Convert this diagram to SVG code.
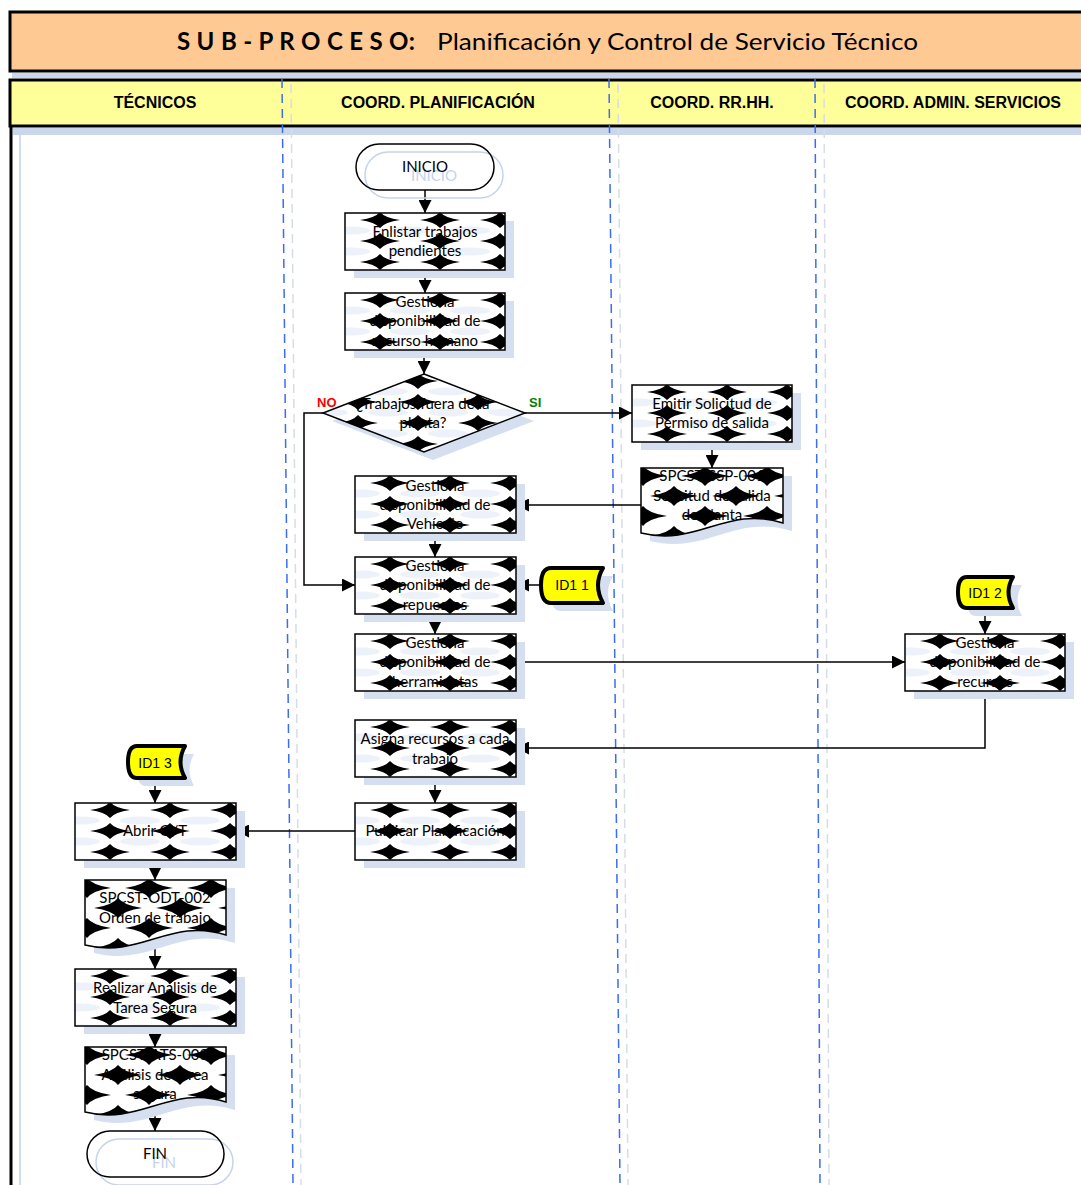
<svg xmlns="http://www.w3.org/2000/svg" xmlns:xlink="http://www.w3.org/1999/xlink" width="1081" height="1185" viewBox="0 0 1081 1185">
<style>
.box{stroke:#000;stroke-width:1.5}
.shadow{fill:#d5dff0}
.t{font-family:Lato,"Open Sans","Liberation Sans",sans-serif;font-size:15px;fill:#000;text-anchor:middle}
.ts{font-family:Lato,"Open Sans","Liberation Sans",sans-serif;font-size:15px;fill:#c5d3ec;text-anchor:middle}
.hd{font-family:"Liberation Sans",Arial,sans-serif;font-size:16px;font-weight:bold;fill:#000;text-anchor:middle}
.lab{font-family:"Liberation Sans",Arial,sans-serif;font-size:13px;font-weight:bold}
.id{font-family:"Liberation Sans",Arial,sans-serif;font-size:14px;fill:#000;text-anchor:middle}
.conn{fill:none;stroke:#000;stroke-width:1.5}
.lane{stroke:#3a6df0;stroke-width:1.5;stroke-dasharray:9 6}
.lane2{stroke:#d6dde8;stroke-width:1.5;stroke-dasharray:9 6}
.offp{fill:#ffff00;stroke:#000;stroke-width:4;stroke-linejoin:round}
</style>
<defs>
<path id="star" d="M-20,0 Q-5,-2 0,-8 Q5,-2 20,0 Q5,2 0,8 Q-5,2 -20,0Z" fill="#000"/>
<path id="bstar" d="M-24,0 Q-6,-2.5 0,-10 Q6,-2.5 24,0 Q6,2.5 0,10 Q-6,2.5 -24,0Z" fill="#000"/>
<pattern id="pt" patternUnits="userSpaceOnUse" x="35" y="7" width="60" height="21">
<rect width="60" height="21" fill="#fff"/>
<ellipse cx="30" cy="10.5" rx="20" ry="4" fill="#edf2fa"/>
<use xlink:href="#star" x="0" y="0"/><use xlink:href="#star" x="60" y="0"/>
<use xlink:href="#star" x="0" y="21"/><use xlink:href="#star" x="60" y="21"/>
</pattern>
<pattern id="pd" patternUnits="userSpaceOnUse" x="2" y="8" width="62" height="40">
<rect width="62" height="40" fill="#fff"/>
<use xlink:href="#bstar" x="0" y="0"/><use xlink:href="#bstar" x="62" y="0"/>
<use xlink:href="#bstar" x="0" y="40"/><use xlink:href="#bstar" x="62" y="40"/>
<use xlink:href="#bstar" x="31" y="20"/>
</pattern>
<marker id="ar" markerUnits="userSpaceOnUse" markerWidth="13" markerHeight="13" refX="13" refY="6.5" orient="auto">
<path d="M0,0 L13,6.5 L0,13Z" fill="#000"/>
</marker>
</defs>

<g id="frame">
<rect x="10" y="12" width="1085" height="59" fill="#ffc993" stroke="#000" stroke-width="3"/>
<rect x="12" y="73" width="1075" height="5" fill="#c9d6ec"/>
<text x="177" y="50" font-family="Lato,'Open Sans',sans-serif" font-size="24" font-weight="bold" textLength="238" lengthAdjust="spacing">S U B - P R O C E S O:</text>
<text x="437" y="50" font-family="Lato,'Open Sans',sans-serif" font-size="24" textLength="481" lengthAdjust="spacingAndGlyphs">Planificación y Control de Servicio Técnico</text>
<rect x="10" y="80" width="1085" height="46" fill="#ffff99" stroke="#000" stroke-width="3"/>
<rect x="13" y="128" width="1075" height="7" fill="#c9d6ec"/>
<line x1="20" y1="135" x2="20" y2="1185" stroke="#d0dcef" stroke-width="2"/>
<line x1="11" y1="126" x2="11" y2="1185" stroke="#000" stroke-width="3"/>
<text class="hd" x="155" y="108">TÉCNICOS</text>
<text class="hd" x="438" y="108">COORD. PLANIFICACIÓN</text>
<text class="hd" x="712" y="108">COORD. RR.HH.</text>
<text class="hd" x="953" y="108">COORD. ADMIN. SERVICIOS</text>
<line class="lane2" x1="291" y1="84" x2="301" y2="1185"/>
<line class="lane2" x1="618" y1="84" x2="628" y2="1185"/>
<line class="lane2" x1="824" y1="84" x2="829" y2="1185"/>
<line class="lane" x1="282" y1="79" x2="293" y2="1185"/>
<line class="lane" x1="609" y1="79" x2="620" y2="1185"/>
<line class="lane" x1="815" y1="79" x2="820" y2="1185"/>
</g>

<g id="connectors">
<path class="conn" d="M425,190 V213" marker-end="url(#ar)"/>
<path class="conn" d="M425,270 V293" marker-end="url(#ar)"/>
<path class="conn" d="M424,350 V374" marker-end="url(#ar)"/>
<path class="conn" d="M525,413 H632" marker-end="url(#ar)"/>
<path class="conn" d="M323,413 H304 V585 H355" marker-end="url(#ar)"/>
<path class="conn" d="M712,442 V468" marker-end="url(#ar)"/>
<path class="conn" d="M641,505 H516" marker-end="url(#ar)"/>
<path class="conn" d="M435,533 V557" marker-end="url(#ar)"/>
<path class="conn" d="M541,585 H516" marker-end="url(#ar)"/>
<path class="conn" d="M435,614 V634" marker-end="url(#ar)"/>
<path class="conn" d="M516,662 H905" marker-end="url(#ar)"/>
<path class="conn" d="M985,608 V634" marker-end="url(#ar)"/>
<path class="conn" d="M985,691 V748 H516" marker-end="url(#ar)"/>
<path class="conn" d="M435,777 V803" marker-end="url(#ar)"/>
<path class="conn" d="M355,831 H236" marker-end="url(#ar)"/>
<path class="conn" d="M155,778 V803" marker-end="url(#ar)"/>
<path class="conn" d="M155,860 V880" marker-end="url(#ar)"/>
<path class="conn" d="M155,939 V969" marker-end="url(#ar)"/>
<path class="conn" d="M155,1026 V1047" marker-end="url(#ar)"/>
<path class="conn" d="M155,1106 V1131" marker-end="url(#ar)"/>
</g>

<g id="inicio" transform="translate(356,144)">
<rect x="9" y="8" width="138" height="46" rx="23" fill="none" stroke="#c5d3ec" stroke-width="1.5"/>
<text class="ts" x="78" y="37">INICIO</text>
<rect width="138" height="46" rx="23" fill="none" stroke="#000" stroke-width="1.5"/>
<text class="t" x="69" y="28">INICIO</text>
</g>

<g id="enlistar" transform="translate(345,213)">
<rect class="shadow" x="9" y="8" width="160" height="57"/>
<rect class="box" width="160" height="57" fill="url(#pt)"/>
<text class="t" x="80" y="24">Enlistar trabajos</text>
<text class="t" x="80" y="43">pendientes</text>
</g>

<g id="rrhh" transform="translate(345,293)">
<rect class="shadow" x="9" y="8" width="160" height="57"/>
<rect class="box" width="160" height="57" fill="url(#pt)"/>
<text class="t" x="80" y="14">Gestiona</text>
<text class="t" x="80" y="33">disponibilidad de</text>
<text class="t" x="80" y="53">recurso humano</text>
</g>

<g id="decision" transform="translate(323,374)">
<path class="shadow" d="M110,8 L211,47 L110,86 L9,47Z"/>
<path class="box" d="M101,0 L202,39 L101,78 L0,39Z" fill="url(#pt)"/>
<text class="t" x="100" y="35">¿Trabajos fuera de la</text>
<text class="t" x="100" y="54">planta?</text>
<text class="lab" x="-6" y="33" fill="#ff0000" text-anchor="start">NO</text>
<text class="lab" x="206" y="33" fill="#008000" text-anchor="start">SI</text>
</g>

<g id="emitir" transform="translate(632,385)">
<rect class="shadow" x="9" y="8" width="160" height="57"/>
<rect class="box" width="160" height="57" fill="url(#pt)"/>
<text class="t" x="80" y="24">Emitir Solicitud de</text>
<text class="t" x="80" y="43">Permiso de salida</text>
</g>

<g id="doc-ssp" transform="translate(641,468)">
<path class="shadow" d="M9,8 H151 V63 C94,45 66,87 9,73Z"/>
<path class="box" d="M0,0 H142 V55 C85,37 57,79 0,65Z" fill="url(#pd)"/>
<text class="t" x="71" y="13">SPCST-SSP-001</text>
<text class="t" x="71" y="33">Solicitud de salida</text>
<text class="t" x="71" y="52">de planta</text>
</g>

<g id="vehiculo" transform="translate(355,476)">
<rect class="shadow" x="9" y="8" width="161" height="57"/>
<rect class="box" width="161" height="57" fill="url(#pt)"/>
<text class="t" x="80" y="15">Gestiona</text>
<text class="t" x="80" y="34">disponibilidad de</text>
<text class="t" x="80" y="53">Vehículo</text>
</g>

<g id="repuestos" transform="translate(355,557)">
<rect class="shadow" x="9" y="8" width="161" height="57"/>
<rect class="box" width="161" height="57" fill="url(#pt)"/>
<text class="t" x="80" y="14">Gestiona</text>
<text class="t" x="80" y="33">disponibilidad de</text>
<text class="t" x="80" y="53">repuestos</text>
</g>

<g id="id11" transform="translate(541,568)">
<path class="shadow" d="M20,8 H72 Q62,25 72,43 H20 Q10,43 10,25 Q10,8 20,8Z"/>
<path class="offp" d="M10,0 H62 Q52,17 62,35 H10 Q0,35 0,17 Q0,0 10,0Z"/>
<text class="id" x="31" y="22">ID1 1</text>
</g>

<g id="herramientas" transform="translate(355,634)">
<rect class="shadow" x="9" y="8" width="161" height="57"/>
<rect class="box" width="161" height="57" fill="url(#pt)"/>
<text class="t" x="80" y="14">Gestiona</text>
<text class="t" x="80" y="33">disponibilidad de</text>
<text class="t" x="80" y="53">herramientas</text>
</g>

<g id="id12" transform="translate(958,577)">
<path class="shadow" d="M18,8 H64 Q55,23 64,39 H18 Q9,39 9,23 Q9,8 18,8Z"/>
<path class="offp" d="M9,0 H55 Q46,15 55,31 H9 Q0,31 0,15 Q0,0 9,0Z"/>
<text class="id" x="27" y="21">ID1 2</text>
</g>

<g id="recursos" transform="translate(905,634)">
<rect class="shadow" x="9" y="8" width="160" height="57"/>
<rect class="box" width="160" height="57" fill="url(#pt)"/>
<text class="t" x="80" y="14">Gestiona</text>
<text class="t" x="80" y="33">disponibilidad de</text>
<text class="t" x="80" y="53">recursos</text>
</g>

<g id="asigna" transform="translate(355,720)">
<rect class="shadow" x="9" y="8" width="161" height="57"/>
<rect class="box" width="161" height="57" fill="url(#pt)"/>
<text class="t" x="80" y="24">Asigna recursos a cada</text>
<text class="t" x="80" y="44">trabajo</text>
</g>

<g id="publicar" transform="translate(355,803)">
<rect class="shadow" x="9" y="8" width="161" height="57"/>
<rect class="box" width="161" height="57" fill="url(#pt)"/>
<text class="t" x="80" y="33">Publicar Planificación</text>
</g>

<g id="id13" transform="translate(128,746)">
<path class="shadow" d="M18,8 H66 Q57,24 66,40 H18 Q9,40 9,24 Q9,8 18,8Z"/>
<path class="offp" d="M9,0 H57 Q48,16 57,32 H9 Q0,32 0,16 Q0,0 9,0Z"/>
<text class="id" x="27" y="22">ID1 3</text>
</g>

<g id="abrir" transform="translate(75,803)">
<rect class="shadow" x="9" y="8" width="161" height="57"/>
<rect class="box" width="161" height="57" fill="url(#pt)"/>
<text class="t" x="80" y="33">Abrir O/T</text>
</g>

<g id="doc-odt" transform="translate(85,880)">
<path class="shadow" d="M9,8 H150 V63 C94,45 65,87 9,73Z"/>
<path class="box" d="M0,0 H141 V55 C85,37 56,79 0,65Z" fill="url(#pd)"/>
<text class="t" x="70" y="23">SPCST-ODT-002</text>
<text class="t" x="70" y="43">Orden de trabajo</text>
</g>

<g id="realizar" transform="translate(75,969)">
<rect class="shadow" x="9" y="8" width="161" height="57"/>
<rect class="box" width="161" height="57" fill="url(#pt)"/>
<text class="t" x="80" y="24">Realizar Análisis de</text>
<text class="t" x="80" y="44">Tarea Segura</text>
</g>

<g id="doc-ats" transform="translate(85,1047)">
<path class="shadow" d="M9,8 H150 V63 C94,45 65,87 9,73Z"/>
<path class="box" d="M0,0 H141 V55 C85,37 56,79 0,65Z" fill="url(#pd)"/>
<text class="t" x="70" y="13">SPCST-ATS-003</text>
<text class="t" x="70" y="33">Análisis de tarea</text>
<text class="t" x="70" y="52">segura</text>
</g>

<g id="fin" transform="translate(87,1131)">
<rect x="9" y="8" width="137" height="46" rx="23" fill="none" stroke="#c5d3ec" stroke-width="1.5"/>
<text class="ts" x="77" y="37">FIN</text>
<rect width="137" height="46" rx="23" fill="none" stroke="#000" stroke-width="1.5"/>
<text class="t" x="68" y="28">FIN</text>
</g>
</svg>
